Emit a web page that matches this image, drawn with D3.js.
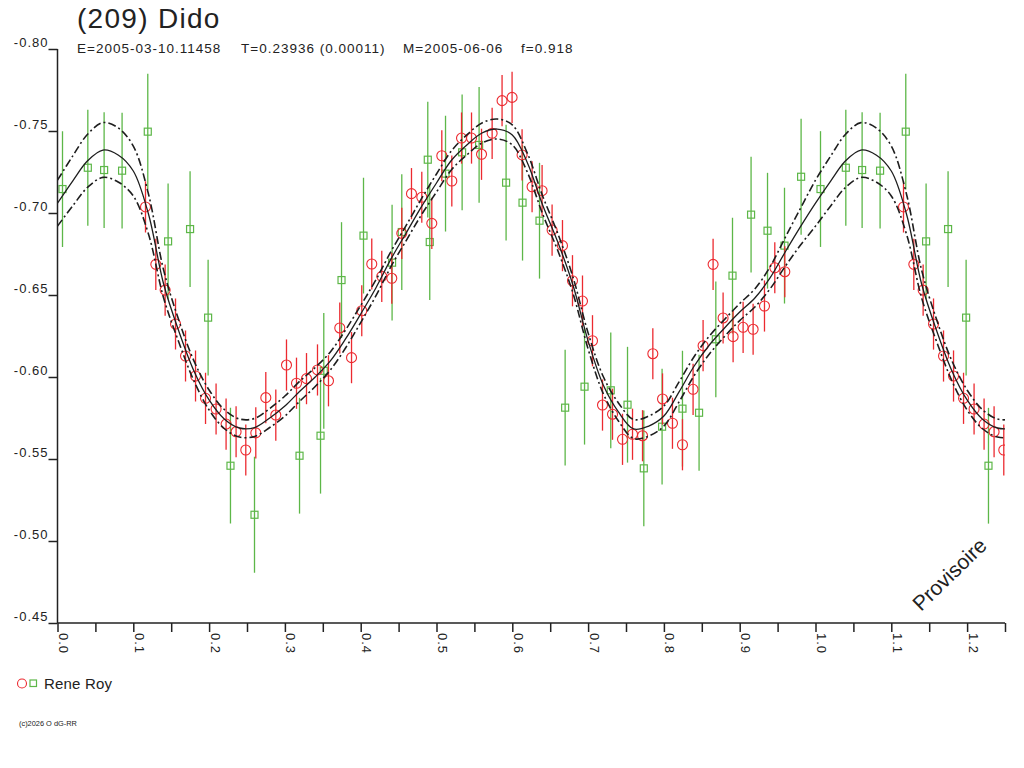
<!DOCTYPE html>
<html>
<head>
<meta charset="utf-8">
<script src="https://cdn.jsdelivr.net/npm/d3@7"></script>
<style>
body{margin:0;background:#fff;}
text{font-family:"Liberation Sans",Arial,sans-serif;fill:#222;}
</style>
</head>
<body>
<script>
// fitted light curve (phase 0..1) and its uncertainty
var fitPhase = [0,0.02,0.04,0.06,0.08,0.10,0.12,0.14,0.16,0.18,0.20,0.22,0.24,0.26,0.28,0.30,0.32,0.34,0.36,0.38,0.40,
	0.42,0.44,0.46,0.48,0.50,0.52,0.54,0.56,0.58,0.60,0.62,0.64,0.66,0.68,0.70,0.72,0.74,0.76,0.78,0.80,
	0.82,0.84,0.86,0.88,0.90,0.92,0.94,0.96,0.98,1.00];
var fitMag = [-0.7060,-0.7195,-0.7320,-0.7384,-0.7354,-0.7256,-0.6994,-0.6567,-0.6280,-0.6037,-0.5860,
	-0.5744,-0.5689,-0.5692,-0.5750,-0.5823,-0.5915,-0.6000,-0.6098,-0.6232,-0.6384,
	-0.6543,-0.6720,-0.6878,-0.7037,-0.7183,-0.7323,-0.7415,-0.7488,-0.7512,-0.7476,
	-0.7305,-0.7049,-0.6823,-0.6561,-0.6220,-0.5951,-0.5787,-0.5683,-0.5701,-0.5762,
	-0.5909,-0.6067,-0.6195,-0.6299,-0.6396,-0.6482,-0.6604,-0.6762,-0.6915,-0.7060];
var fitErr = [0.0140,0.0152,0.0162,0.0167,0.0165,0.0152,0.0122,0.0085,0.0067,0.0061,0.0061,
	0.0058,0.0055,0.0055,0.0058,0.0061,0.0061,0.0058,0.0055,0.0055,0.0052,
	0.0049,0.0046,0.0046,0.0049,0.0055,0.0058,0.0061,0.0061,0.0061,0.0061,
	0.0058,0.0055,0.0052,0.0049,0.0049,0.0052,0.0055,0.0058,0.0061,0.0061,
	0.0061,0.0058,0.0055,0.0052,0.0052,0.0055,0.0067,0.0088,0.0112,0.0140];

// Rene Roy, first set (red circles)
var redPhase = [0.1161,0.1297,0.1420,0.1557,0.1689,0.1821,0.1953,0.2092,0.2224,0.2356,0.2484,0.2616,
	0.2748,0.2880,0.3021,0.3153,0.3285,0.3430,0.3575,0.3724,0.3879,0.4014,0.4146,0.4278,0.4410,
	0.4542,0.4670,0.4806,0.4938,0.5070,0.5202,0.5330,0.5462,0.5594,0.5734,0.5865,0.5997,0.6129,
	0.6261,0.6393,0.6525,0.6662,0.6794,0.6926,0.7058,0.7190,0.7322,0.7454,0.7586,0.7718,0.7854,
	0.7982,0.8113,0.8245,0.8385,0.8517,0.8649,0.8781,0.8913,0.9045,0.9177,0.9327,0.9463,0.9595];
var redMag = [-0.7037,-0.6687,-0.6530,-0.6323,-0.6128,-0.6006,-0.5870,-0.5805,-0.5713,-0.5666,-0.5555,-0.5659,
	-0.5874,-0.5768,-0.6073,-0.5962,-0.5990,-0.6043,-0.5977,-0.6299,-0.6118,-0.6404,-0.6689,-0.6614,-0.6602,
	-0.6876,-0.7118,-0.7096,-0.6937,-0.7349,-0.7195,-0.7457,-0.7457,-0.7358,-0.7486,-0.7685,-0.7705,-0.7354,
	-0.7160,-0.7136,-0.6896,-0.6801,-0.6587,-0.6463,-0.6221,-0.5829,-0.5773,-0.5620,-0.5651,-0.5642,-0.6142,
	-0.5866,-0.5718,-0.5587,-0.5925,-0.6191,-0.6687,-0.6360,-0.6246,-0.6303,-0.6291,-0.6433,-0.6666,-0.6642];
var redErr = 0.0156;

// Rene Roy, second set (green squares)
var greenPhase = [0.0066,0.0400,0.0615,0.0852,0.1191,0.1459,0.1749,0.1987,0.2282,0.2599,
	0.3193,0.3470,0.3513,0.3747,0.4037,0.4414,0.4542,0.4885,0.4911,0.5119,
	0.5338,0.5562,0.5918,0.6135,0.6359,0.6697,0.6953,0.7299,0.7520,0.7735,
	0.7976,0.8245,0.8464,0.8685,0.8905,0.9150,0.9367,0.9591,0.9810];
var greenMag = [-0.7146,-0.7276,-0.7262,-0.7258,-0.7496,-0.6827,-0.6902,-0.6362,-0.5459,-0.5160,
	-0.5520,-0.5642,-0.6038,-0.6591,-0.6862,-0.6697,-0.6884,-0.7325,-0.6823,-0.7240,
	-0.7370,-0.7415,-0.7185,-0.7063,-0.6953,-0.5813,-0.5941,-0.5919,-0.5831,-0.5443,
	-0.5697,-0.5807,-0.5782,-0.6230,-0.6618,-0.6990,-0.6892,-0.6801,-0.7221];
var greenErr = 0.0353;

var xTicks = [0,0.05,0.1,0.15,0.2,0.25,0.3,0.35,0.4,0.45,0.5,0.55,0.6,0.65,0.7,0.75,0.8,0.85,0.9,0.95,1.0,1.05,1.1,1.15,1.2,1.25];
var xLabelTicks = [0,0.1,0.2,0.3,0.4,0.5,0.6,0.7,0.8,0.9,1.0,1.1,1.2];
var yTicks = [-0.80,-0.75,-0.70,-0.65,-0.60,-0.55,-0.50,-0.45];

var titleText = "(209) Dido";
var infoTexts = ["E=2005-03-10.11458", "T=0.23936 (0.00011)", "M=2005-06-06", "f=0.918"];
var observer = "Rene Roy";

var maxPhase = 1.25;

var svg = d3.select("body").append("svg")
	.attr("width", 1024)
	.attr("height", 768);

var x = d3.scaleLinear().domain([0, maxPhase]).range([57.5, 1005]);
var y = d3.scaleLinear().domain([-0.80, -0.45]).range([49, 623]);

svg.append("defs").append("clipPath").attr("id", "plotclip")
	.append("rect").attr("x", x(0)).attr("y", 0).attr("width", x(maxPhase) - x(0)).attr("height", 640);

// repeat a phase series over 0..maxPhase
function unfold(phases, mags){
	var out = [];
	[0, 1].forEach(function(k){
		phases.forEach(function(p, i){
			if(p + k <= maxPhase) out.push({p: p + k, m: mags[i]});
		});
	});
	return out;
}

var plot = svg.append("g").attr("clip-path", "url(#plotclip)");

var greenPts = unfold(greenPhase, greenMag);
var redPts = unfold(redPhase, redMag);

plot.selectAll("line.gbar").data(greenPts).enter().append("line")
	.attr("class", "gbar")
	.attr("x1", function(d){ return x(d.p); })
	.attr("x2", function(d){ return x(d.p); })
	.attr("y1", function(d){ return y(d.m - greenErr); })
	.attr("y2", function(d){ return y(d.m + greenErr); })
	.attr("stroke", "#5db748").attr("stroke-width", 1.3);

plot.selectAll("rect.gpt").data(greenPts).enter().append("rect")
	.attr("class", "gpt")
	.attr("x", function(d){ return x(d.p) - 3.5; })
	.attr("y", function(d){ return y(d.m) - 3.5; })
	.attr("width", 7).attr("height", 7)
	.attr("fill", "none").attr("stroke", "#5db748").attr("stroke-width", 1.2);

plot.selectAll("line.rbar").data(redPts).enter().append("line")
	.attr("class", "rbar")
	.attr("x1", function(d){ return x(d.p); })
	.attr("x2", function(d){ return x(d.p); })
	.attr("y1", function(d){ return y(d.m - redErr); })
	.attr("y2", function(d){ return y(d.m + redErr); })
	.attr("stroke", "#ec2a30").attr("stroke-width", 1.3);

plot.selectAll("circle.rpt").data(redPts).enter().append("circle")
	.attr("class", "rpt")
	.attr("cx", function(d){ return x(d.p); })
	.attr("cy", function(d){ return y(d.m); })
	.attr("r", 5)
	.attr("fill", "none").attr("stroke", "#ec2a30").attr("stroke-width", 1.1);

// fitted curve and envelopes
var fitPts = [];
[0, 1].forEach(function(k){
	fitPhase.forEach(function(p, i){
		if(k == 1 && i == 0) return;
		if(p + k <= maxPhase + 0.05) fitPts.push({p: p + k, m: fitMag[i], e: fitErr[i]});
	});
});

var line = d3.line().curve(d3.curveCatmullRom.alpha(0.5)).x(function(d){ return x(d.p); });

plot.append("path").datum(fitPts)
	.attr("d", line.y(function(d){ return y(d.m - d.e); }))
	.attr("fill", "none").attr("stroke", "#1e1e1e").attr("stroke-width", 1.6)
	.attr("stroke-dasharray", "8,3,2,3");
plot.append("path").datum(fitPts)
	.attr("d", line.y(function(d){ return y(d.m + d.e); }))
	.attr("fill", "none").attr("stroke", "#1e1e1e").attr("stroke-width", 1.6)
	.attr("stroke-dasharray", "8,3,2,3");
plot.append("path").datum(fitPts)
	.attr("d", line.y(function(d){ return y(d.m); }))
	.attr("fill", "none").attr("stroke", "#1e1e1e").attr("stroke-width", 1.3);

// axes
var xAxis = d3.axisBottom(x)
	.tickValues(xTicks)
	.tickSize(9)
	.tickFormat(function(d){
		var hit = xLabelTicks.some(function(t){ return Math.abs(t - d) < 1e-6; });
		return hit ? d.toFixed(1) : "";
	});
var gx = svg.append("g").attr("transform", "translate(0,623)").call(xAxis);
gx.select(".domain").attr("d", "M" + x(0) + ",0H" + x(maxPhase));
gx.selectAll("text")
	.attr("x", null).attr("y", null).attr("dy", null)
	.attr("text-anchor", "start")
	.attr("transform", "translate(1,10) rotate(90)")
	.style("font-size", "13px").style("letter-spacing", "1px")
	.style("font-family", '"Liberation Sans",Arial,sans-serif').attr("fill", "#222");

var yAxis = d3.axisLeft(y)
	.tickValues(yTicks)
	.tickSize(9)
	.tickFormat(function(d){ return d.toFixed(2); });
var gy = svg.append("g").attr("transform", "translate(57.5,0)").call(yAxis);
gy.select(".domain").attr("d", "M0," + y(-0.80) + "V" + y(-0.45));
gy.selectAll("text")
	.attr("dy", null).attr("y", -3).attr("x", -9)
	.style("font-size", "13px").style("letter-spacing", "1px")
	.style("font-family", '"Liberation Sans",Arial,sans-serif').attr("fill", "#222");

svg.selectAll(".domain, .tick line").attr("stroke", "#222").attr("stroke-width", 1.5);

// titles
svg.append("text").attr("x", 77).attr("y", 28)
	.style("font-size", "28px").style("letter-spacing", "1.3px")
	.text(titleText);

var infoX = [77, 241, 403, 521];
svg.selectAll("text.info").data(infoTexts).enter().append("text")
	.attr("class", "info")
	.attr("x", function(d, i){ return infoX[i]; })
	.attr("y", 53)
	.style("font-size", "13.5px").style("letter-spacing", "1px")
	.text(function(d){ return d; });

svg.append("text")
	.attr("transform", "translate(921,612) rotate(-44)")
	.style("font-size", "21px")
	.text("Provisoire");

// legend
svg.append("circle").attr("cx", 22).attr("cy", 683.5).attr("r", 4.5)
	.attr("fill", "none").attr("stroke", "#ec2a30").attr("stroke-width", 1.1);
svg.append("rect").attr("x", 30).attr("y", 680).attr("width", 6.5).attr("height", 6.5)
	.attr("fill", "none").attr("stroke", "#5db748").attr("stroke-width", 1.2);
svg.append("text").attr("x", 44).attr("y", 689)
	.style("font-size", "15px").style("letter-spacing", "0.2px")
	.text(observer);

svg.append("text").attr("x", 19).attr("y", 726)
	.style("font-size", "7.4px")
	.text("(c)2026 O dG-RR");
</script>
</body>
</html>
